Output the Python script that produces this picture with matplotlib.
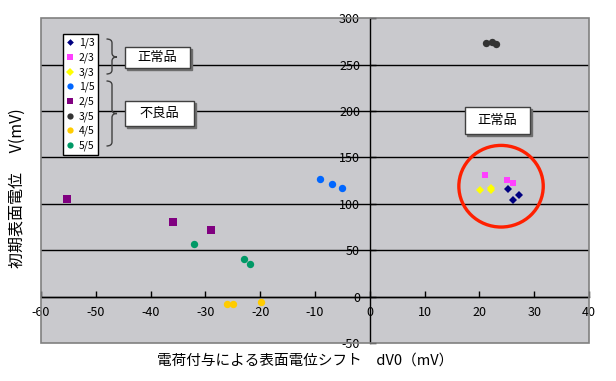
import matplotlib
matplotlib.use("Agg")
import matplotlib.pyplot as plt
from matplotlib.patches import Ellipse, Rectangle, PathPatch
from matplotlib.path import Path

plt.rcParams['font.family'] = ['Noto Sans CJK JP', 'DejaVu Sans']

# ---- data ----
series_labels = ["1/3", "2/3", "3/3", "1/5", "2/5", "3/5", "4/5", "5/5"]
x_13 = [25.2, 27.2, 26.1]
y_13 = [115.6, 109.8, 104.4]
x_23 = [21.1, 25.1, 26.1]
y_23 = [131.1, 125.7, 122.5]
x_33 = [20.1, 22.1, 22.1]
y_33 = [114.9, 117.5, 114.5]
x_15 = [-9.0, -6.9, -5.0]
y_15 = [127.1, 121.4, 117.1]
x_25 = [-55.3, -36.0, -28.9]
y_25 = [105.5, 80.7, 71.7]
x_35 = [21.2, 22.3, 23.0]
y_35 = [272.9, 274.3, 272.7]
x_45 = [-26.0, -25.0, -19.9]
y_45 = [-7.6, -8.2, -5.4]
x_55 = [-32.0, -22.9, -21.9]
y_55 = [56.9, 40.9, 35.0]

xs = [x_13, x_23, x_33, x_15, x_25, x_35, x_45, x_55]
ys = [y_13, y_23, y_33, y_15, y_25, y_35, y_45, y_55]
colors = ["#000080", "#ff40ff", "#ffff00", "#0066ff", "#800080", "#333333", "#ffcc00", "#009966"]
markers = ["D", "s", "D", "o", "s", "o", "o", "o"]
msizes = [4, 4.3, 4.3, 5.3, 5.3, 5.3, 5.3, 5.3]

x_ticks = [-60, -50, -40, -30, -20, -10, 0, 10, 20, 30, 40]
y_ticks = [-50, 0, 50, 100, 150, 200, 250, 300]

circle_center = (23.95, 119)
circle_w, circle_h = 15.4, 88

W, H = 616, 381
fig = plt.figure(figsize=(W / 100, H / 100), dpi=100)
fig.patch.set_facecolor("white")
ax = fig.add_axes([41 / W, 1 - 343 / H, (589 - 41) / W, (343 - 18.3) / H])
ax.set_facecolor("#c9c9cd")

def px(x, y):
    return (x / W, 1 - y / H)

for xv, yv, c, m, s, lab in zip(xs, ys, colors, markers, msizes, series_labels):
    ax.plot(xv, yv, linestyle="none", marker=m, color=c, markersize=s,
            markeredgewidth=0, label=lab, zorder=5)

ax.set_xlim(x_ticks[0], x_ticks[-1])
ax.set_ylim(y_ticks[0], y_ticks[-1])
ax.set_xticks(x_ticks)
ax.set_yticks(y_ticks)
ax.set_xticklabels([str(v) for v in x_ticks])
ax.set_yticklabels([str(v) for v in y_ticks])

for v in y_ticks[1:-1]:
    ax.axhline(v, color="black", lw=1.0, zorder=1)

for s in ["top", "right"]:
    ax.spines[s].set_visible(False)
ax.spines["left"].set_position(("data", 0))
ax.spines["bottom"].set_position(("data", 0))
ax.spines["left"].set_color("black")
ax.spines["bottom"].set_color("black")
ax.spines["left"].set_linewidth(1.0)
ax.spines["bottom"].set_linewidth(1.0)
ax.tick_params(axis="x", direction="in", length=4, width=1, pad=7, labelsize=9)
ax.tick_params(axis="y", direction="in", length=4, width=1, pad=7, labelsize=9)

# plot-area border
ax.add_patch(Rectangle((0, 0), 1, 1, transform=ax.transAxes, fill=False,
                       edgecolor="#808080", lw=1.2, zorder=6, clip_on=False))

# red circle
ax.add_patch(Ellipse(circle_center, circle_w, circle_h, fill=False,
                     edgecolor="#ff2000", lw=2.4, zorder=7))

# legend
leg = ax.legend(loc="upper left", bbox_to_anchor=px(63.3, 34.3),
                bbox_transform=fig.transFigure, borderaxespad=0,
                fontsize=7.5, handlelength=0.6, handletextpad=0.55,
                labelspacing=0.4, borderpad=0.35, fancybox=False,
                framealpha=1, edgecolor="black", markerscale=0.85)
leg.get_frame().set_linewidth(1.0)
leg.set_zorder(8)

# braces
def brace(xl, xm, xr, yt, yb, ym):
    verts = [px(xl, yt), px(xm, yt), px(xm, yt + 4),
             px(xm, ym - 4), px(xm, ym), px(xr, ym),
             px(xm, ym), px(xm, ym + 4),
             px(xm, yb - 4), px(xm, yb), px(xl, yb)]
    codes = [Path.MOVETO, Path.CURVE3, Path.CURVE3,
             Path.LINETO, Path.CURVE3, Path.CURVE3,
             Path.CURVE3, Path.CURVE3,
             Path.LINETO, Path.CURVE3, Path.CURVE3]
    fig.add_artist(PathPatch(Path(verts, codes), fill=False, edgecolor="#404040",
                             lw=1.0, transform=fig.transFigure, zorder=9))

brace(106.5, 112, 117, 39, 74, 57)
brace(106.5, 112, 117, 81, 146, 113.5)

# labelled boxes with shadow
def box(x0, y0, x1, y1, text):
    for dx, dy, fc, ec in [(2, 2, "#6e6e6e", "#6e6e6e"), (0, 0, "white", "#404040")]:
        xa, ya = px(x0 + dx, y1 + dy)
        xb, yb = px(x1 + dx, y0 + dy)
        fig.add_artist(Rectangle((xa, ya), xb - xa, yb - ya, transform=fig.transFigure,
                                 facecolor=fc, edgecolor=ec, lw=1.0, zorder=9))
    cx, cy = px((x0 + x1) / 2, (y0 + y1) / 2)
    fig.text(cx, cy, text, ha="center", va="center", fontsize=9.5, zorder=10)

box(125, 47.3, 189.7, 68.3, "正常品")
box(125, 101, 193.7, 125.7, "不良品")
box(465, 106.7, 530, 134.3, "正常品")

# axis titles
fig.text(*px(305, 361), "電荷付与による表面電位シフト　dV0（mV）", ha="center",
         va="center", fontsize=10.5)
fig.text(*px(17, 188), "初期表面電位　 V(mV)", ha="center", va="center",
         rotation=90, fontsize=11.5)

fig.savefig("out.png", dpi=100, facecolor="white")
